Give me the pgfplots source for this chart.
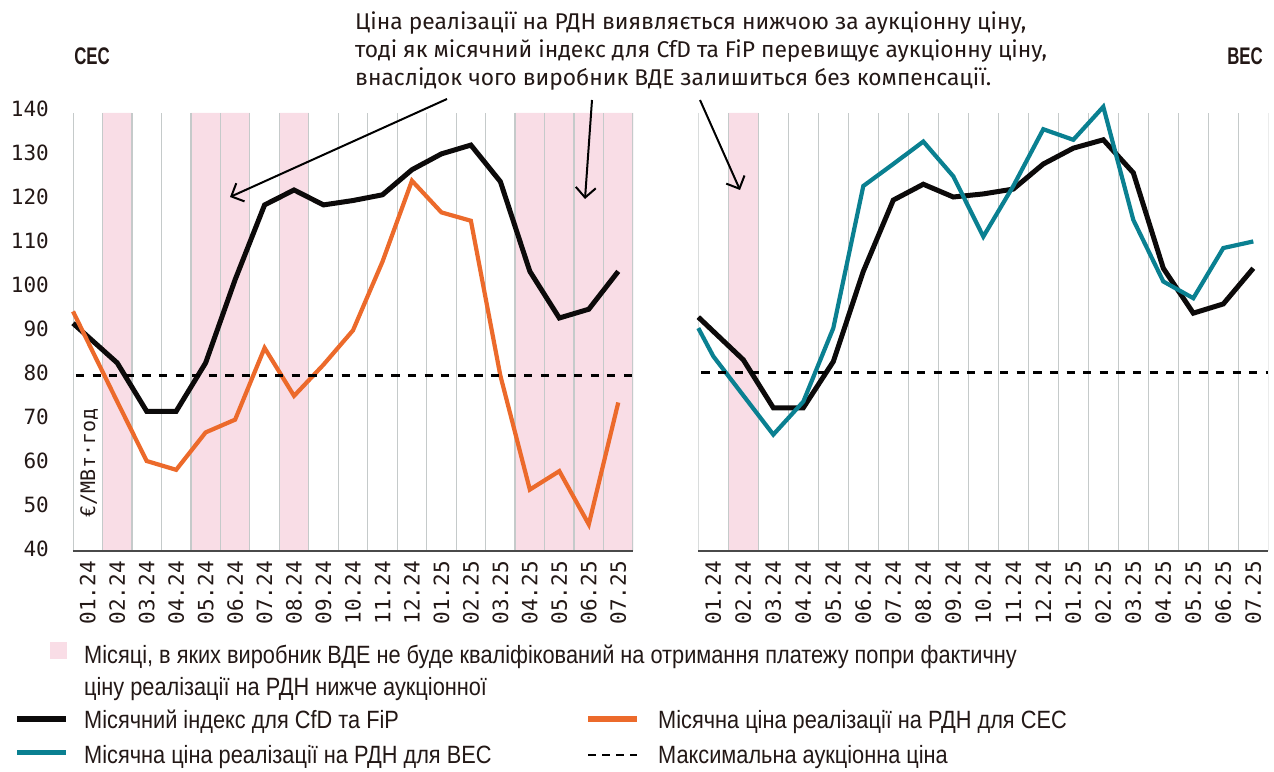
\documentclass[border=0pt]{standalone}
\usepackage{pgfplots}
\pgfplotsset{compat=1.18}
\usetikzlibrary{arrows.meta}
\usepackage{fontspec}
\setmainfont{Liberation Sans}
\newfontfamily\legfont{Liberation Sans}[FakeStretch=0.87]
\newfontfamily\titfont{Liberation Sans}[FakeStretch=0.70]
\newfontfamily\monofont{DejaVu Sans Mono}
\newfontfamily\annfont{Fira Sans}

\definecolor{pinkc}{HTML}{F9DDE6}
\definecolor{gridc}{HTML}{C5CACA}
\definecolor{orangec}{HTML}{EC6A2B}
\definecolor{tealc}{HTML}{0A8091}
\definecolor{blackc}{HTML}{0C0A0A}
\definecolor{textc}{HTML}{231816}
\definecolor{axisc}{HTML}{4A4A4A}

\pgfplotstableread{
x v
0.5 91.3
2 82.3
3 71.3
4 71.3
5 82.3
6 101.2
7 118.2
8 121.6
9 118.2
10 119.2
11 120.5
12 126.2
13 129.8
14 131.8
15 123.5
16 103.1
17 92.5
18 94.5
19 103.1
}\sesindex
\pgfplotstableread{
x v
0.5 94.0
2 73.5
3 60.0
4 58.0
5 66.5
6 69.4
7 85.7
8 74.8
9 81.9
10 89.7
11 105.3
12 123.7
13 116.5
14 114.6
15 79.4
16 53.5
17 57.7
18 45.6
19 73.3
}\sesprice
\pgfplotstableread{
x v
0.5 92.7
2 83.0
3 72.1
4 72.1
5 82.6
6 103.1
7 119.3
8 122.9
9 120.0
10 120.7
11 121.8
12 127.5
13 131.1
14 133.0
15 125.5
16 103.8
17 93.6
18 95.7
19 103.8
}\vesindex
\pgfplotstableread{
x v
0.5 90.2
1 83.8
3 66.0
4 73.5
5 90.2
6 122.5
7 127.5
8 132.6
9 124.7
10 111.0
11 122.5
12 135.4
13 133.0
14 140.5
15 114.8
16 100.8
17 97.0
18 108.4
19 109.9
}\vesprice

\pgfplotsset{
  panelframe/.style={scale only axis, height=442pt, anchor=south west,
    xmin=0.5, xmax=19.5, ymin=39.55, ymax=140},
  shadeaxis/.style={panelframe, hide axis},
  mainaxis/.style={panelframe, clip=false,
    axis x line*=bottom, x axis line style={-, line width=1.5pt, color=axisc},
    xtick={1,...,19},
    xticklabels={01.24,02.24,03.24,04.24,05.24,06.24,07.24,08.24,09.24,10.24,11.24,12.24,01.25,02.25,03.25,04.25,05.25,06.25,07.25},
    major tick length=0pt, minor tick length=0pt,
    xticklabel style={font=\monofont\fontsize{21}{21}\selectfont, text=textc, yshift=-10pt, rotate=90, anchor=east, inner sep=0pt},
    /pgf/number format/assume math mode=true,
  },
}

\begin{document}
\begin{tikzpicture}[x=1pt,y=1pt]
\path[use as bounding box] (0pt,0pt) rectangle (1274pt,771pt);

% ---------- left panel (СЕС) ----------
\begin{axis}[shadeaxis, at={(73pt,220pt)}, width=560pt]
\addplot[ybar interval, fill=pinkc, draw=none] coordinates {
(0.5,0) (1.5,139.1) (2.5,0) (3.5,0) (4.5,139.1) (5.5,139.1) (6.5,0) (7.5,139.1) (8.5,0) (9.5,0) (10.5,0) (11.5,0) (12.5,0) (13.5,0) (14.5,0) (15.5,139.1) (16.5,139.1) (17.5,139.1) (18.5,139.1) (19.5,0)};
\addplot[ycomb, gridc, line width=1.3pt] coordinates {
(0.5,139.1) (1.5,139.1) (2.5,139.1) (3.5,139.1) (4.5,139.1) (5.5,139.1) (6.5,139.1) (7.5,139.1) (8.5,139.1) (9.5,139.1) (10.5,139.1) (11.5,139.1) (12.5,139.1) (13.5,139.1) (14.5,139.1) (15.5,139.1) (16.5,139.1) (17.5,139.1) (18.5,139.1) (19.5,139.1)};
\end{axis}
\begin{axis}[mainaxis, at={(73pt,220pt)}, width=560pt,
  axis y line*=left, y axis line style={draw=none},
  ytick={40,50,...,140},
  yticklabel style={font=\monofont\fontsize{21}{21}\selectfont, text=textc, anchor=east, inner sep=0pt, xshift=-24pt}]
\addplot[blackc, line width=5pt] table[x=x,y=v] {\sesindex};
\addplot[orangec, line width=4.2pt] table[x=x,y=v] {\sesprice};
\addplot[black, line width=2.7pt, dash pattern=on 8.3pt off 8.3pt] coordinates {(0.6,79.4) (19.5,79.4)};
\node[rotate=90, anchor=west, inner sep=0pt, text=textc, font=\monofont\fontsize{20}{20}\selectfont] at (axis cs:1.05,47.2) {€/МВт·год};
\end{axis}

% ---------- right panel (ВЕС) ----------
\begin{axis}[shadeaxis, at={(698.3pt,220pt)}, width=570pt]
\addplot[ybar interval, fill=pinkc, draw=none] coordinates {
(0.5,0) (1.5,139.1) (2.5,0) (19.5,0)};
\addplot[ycomb, gridc, line width=1.3pt] coordinates {
(0.5,139.1) (1.5,139.1) (2.5,139.1) (3.5,139.1) (4.5,139.1) (5.5,139.1) (6.5,139.1) (7.5,139.1) (8.5,139.1) (9.5,139.1) (10.5,139.1) (11.5,139.1) (12.5,139.1) (13.5,139.1) (14.5,139.1) (15.5,139.1) (16.5,139.1) (17.5,139.1) (18.5,139.1) (19.5,139.1)};
\end{axis}
\begin{axis}[mainaxis, at={(698.3pt,220pt)}, width=570pt,
  axis y line=none, ytick=\empty]
\addplot[blackc, line width=5pt] table[x=x,y=v] {\vesindex};
\addplot[tealc, line width=4.2pt] table[x=x,y=v] {\vesprice};
\addplot[black, line width=2.7pt, dash pattern=on 8.3pt off 8.3pt] coordinates {(0.6,80.1) (19.5,80.1)};
\end{axis}

% ---------- titles ----------
\node[font=\titfont\bfseries\fontsize{24}{24}\selectfont, text=textc] at (92pt,715pt) {СЕС};
\node[font=\titfont\bfseries\fontsize{24}{24}\selectfont, text=textc] at (1245pt,715pt) {ВЕС};

% ---------- annotation ----------
\begin{scope}[font=\annfont\fontsize{22.8}{22.8}\selectfont, text=textc]
\node[anchor=base west, inner sep=0pt] at (355pt,741.7pt) {Ціна реалізації на РДН виявляється нижчою за аукціонну ціну,};
\node[anchor=base west, inner sep=0pt] at (355pt,713.3pt) {тоді як місячний індекс для CfD та FiP перевищує аукціонну ціну,};
\node[anchor=base west, inner sep=0pt] at (355pt,685pt) {внаслідок чого виробник ВДЕ залишиться без компенсації.};
\end{scope}
\draw[black, line width=2pt, -{Straight Barb[length=10pt,width=20pt,line width=2pt]}] (447pt,672pt) -- (230pt,574pt);
\draw[black, line width=2pt, -{Straight Barb[length=10pt,width=20pt,line width=2pt]}] (592pt,671pt) -- (585pt,572pt);
\draw[black, line width=2pt, -{Straight Barb[length=10pt,width=20pt,line width=2pt]}] (700pt,671pt) -- (740pt,581pt);

% ---------- legend ----------
\begin{scope}[font=\legfont\fontsize{25}{25}\selectfont, text=textc]
\fill[pinkc] (49.5pt,111.5pt) rectangle (66.5pt,128.5pt);
\node[anchor=base west, inner sep=0pt] at (84pt,107pt) {Місяці, в яких виробник ВДЕ не буде кваліфікований на отримання платежу попри фактичну};
\node[anchor=base west, inner sep=0pt] at (84pt,75pt) {ціну реалізації на РДН нижче аукціонної};
\draw[blackc, line width=5pt] (17pt,52pt) -- (66pt,52pt);
\node[anchor=base west, inner sep=0pt] at (84pt,42pt) {Місячний індекс для CfD та FiP};
\draw[orangec, line width=5pt] (588pt,52pt) -- (637pt,52pt);
\node[anchor=base west, inner sep=0pt] at (658pt,42pt) {Місячна ціна реалізації на РДН для СЕС};
\draw[tealc, line width=5pt] (17pt,19pt) -- (66pt,19pt);
\node[anchor=base west, inner sep=0pt] at (84pt,8pt) {Місячна ціна реалізації на РДН для ВЕС};
\draw[black, line width=2.5pt, dash pattern=on 8pt off 6pt] (588pt,16pt) -- (637pt,16pt);
\node[anchor=base west, inner sep=0pt] at (658pt,8pt) {Максимальна аукціонна ціна};
\end{scope}
\end{tikzpicture}
\end{document}
